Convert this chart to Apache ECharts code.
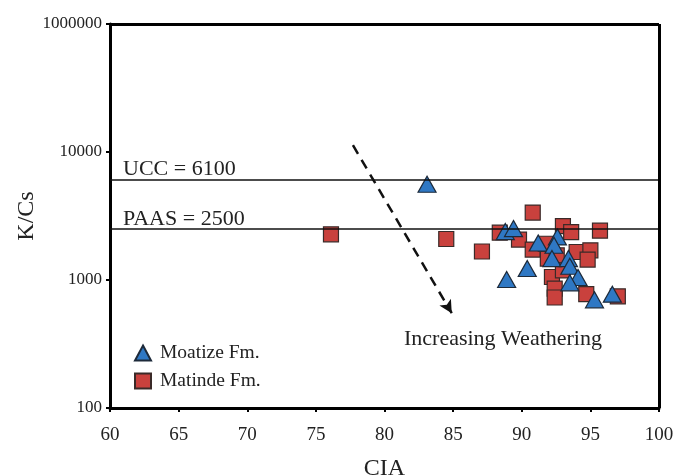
<!DOCTYPE html>
<html>
<head>
<meta charset="utf-8">
<script src="https://cdn.jsdelivr.net/npm/echarts@6/dist/echarts.min.js"></script>
<style>
  html, body { margin: 0; padding: 0; background: #fff; }
  #chart { width: 688px; height: 476px; }
</style>
</head>
<body>
<div id="chart"></div>
<script>
// CIA vs K/Cs for the two formations
const moatizeCIA = [83.1, 88.8, 89.4, 91.2, 92.6, 92.35, 92.2, 93.4, 93.5, 90.4, 88.9, 94.1, 93.5, 95.3, 96.6];
const moatizeKCs = [5600, 2390, 2520, 1945, 2170, 1870, 1470, 1470, 1280, 1230, 1010, 1045, 950, 700, 775];

const matindeCIA = [76.1, 84.5, 87.1, 88.4, 89.8, 90.8, 90.8, 91.9, 91.75, 92.55, 92.2, 92.4, 92.4, 93.0, 93.6, 95.7, 94.0, 95.0, 94.8, 93.0, 94.7, 97.0];
const matindeKCs = [2275, 2090, 1670, 2345, 2070, 3365, 1730, 1470, 1920, 1560, 1055, 855, 730, 2640, 2370, 2430, 1655, 1705, 1445, 1190, 775, 745];

const xTicks = [60, 65, 70, 75, 80, 85, 90, 95, 100];
const yTickValues = [100, 1000, 10000, 100000];
const yTickLabels = ['100', '1000', '10000', '1000000'];

// Reference compositions
const uccValue = 6100;
const paasValue = 2500;

// Weathering trend arrow endpoints [CIA, K/Cs]
const trendStart = [77.7, 11300];
const trendEnd = [84.9, 550];

const serif = '"Liberation Serif", "Times New Roman", serif';

const chart = echarts.init(document.getElementById('chart'));

const zip = (xs, ys) => xs.map((x, i) => [x, ys[i]]);

chart.setOption({
  animation: false,
  backgroundColor: '#fff',
  textStyle: { fontFamily: serif },
  grid: { left: 110, right: 29, top: 24, bottom: 68, containLabel: false, outerBoundsMode: 'none' },
  xAxis: {
    type: 'value',
    min: xTicks[0],
    max: xTicks[xTicks.length - 1],
    interval: 5,
    name: 'CIA',
    nameLocation: 'middle',
    nameGap: 49,
    nameTextStyle: { fontFamily: serif, fontSize: 24, color: '#222' },
    axisLine: { lineStyle: { color: '#000', width: 3 } },
    axisTick: { show: true, length: 4, lineStyle: { color: '#000', width: 2 } },
    axisLabel: { fontFamily: serif, fontSize: 19, color: '#222', margin: 18 },
    splitLine: { show: false }
  },
  yAxis: {
    type: 'log',
    logBase: 10,
    min: yTickValues[0],
    max: yTickValues[yTickValues.length - 1],
    name: 'K/Cs',
    nameLocation: 'middle',
    nameMoveOverlap: false,
    nameGap: 71,
    nameTextStyle: { fontFamily: serif, fontSize: 24, color: '#222' },
    axisLine: { lineStyle: { color: '#000', width: 3 } },
    axisTick: { show: true, length: 4, lineStyle: { color: '#000', width: 2 } },
    axisLabel: {
      fontFamily: serif, fontSize: 17, color: '#222', margin: 8,
      formatter: v => {
        const i = yTickValues.findIndex(t => Math.abs(Math.log10(t) - Math.log10(v)) < 1e-6);
        return i >= 0 ? yTickLabels[i] : '';
      }
    },
    splitLine: { show: false }
  },
  legend: {
    orient: 'vertical',
    left: 129,
    top: 338,
    itemWidth: 16,
    itemHeight: 15,
    itemGap: 8,
    textStyle: { fontFamily: serif, fontSize: 19.5, color: '#222', padding: [0, 0, 0, 4] },
    data: ['Moatize Fm.', 'Matinde Fm.']
  },
  series: [
    {
      // frame on the top and right edges plus reference lines and trend arrow
      type: 'line',
      data: [],
      silent: true,
      markLine: {
        silent: true,
        symbol: 'none',
        animation: false,
        data: [
          {
            yAxis: uccValue,
            lineStyle: { color: '#111', width: 1.5, type: 'solid' },
            label: {
              show: true, position: 'insideStartTop', formatter: 'UCC = 6100',
              fontFamily: serif, fontSize: 22, color: '#222', distance: [13, -1]
            }
          },
          {
            yAxis: paasValue,
            lineStyle: { color: '#111', width: 1.5, type: 'solid' },
            label: {
              show: true, position: 'insideStartTop', formatter: 'PAAS = 2500',
              fontFamily: serif, fontSize: 22, color: '#222', distance: [13, -1]
            }
          },
          {
            yAxis: yTickValues[yTickValues.length - 1],
            lineStyle: { color: '#000', width: 3, type: 'solid' },
            label: { show: false }
          },
          {
            xAxis: xTicks[xTicks.length - 1],
            lineStyle: { color: '#000', width: 3, type: 'solid' },
            label: { show: false }
          },
          [
            {
              coord: trendStart,
              symbol: 'none',
              lineStyle: { color: '#111', width: 2.5, type: [10, 7] },
              label: { show: false }
            },
            { coord: trendEnd, symbol: 'arrow', symbolSize: [10, 13] }
          ]
        ]
      }
    },
    {
      name: 'Matinde Fm.',
      type: 'scatter',
      symbol: 'rect',
      symbolSize: 15,
      itemStyle: { color: '#c9413d', borderColor: '#3a2a28', borderWidth: 1.2, opacity: 1 },
      data: zip(matindeCIA, matindeKCs),
      z: 3
    },
    {
      name: 'Moatize Fm.',
      type: 'scatter',
      symbol: 'triangle',
      symbolSize: [18, 16],
      itemStyle: { color: '#2f78c4', borderColor: '#1d2a3a', borderWidth: 1.2, opacity: 1 },
      data: zip(moatizeCIA, moatizeKCs),
      z: 4
    }
  ],
  graphic: [
    {
      type: 'text',
      left: 404,
      top: 328,
      style: { text: 'Increasing Weathering', font: '22px ' + serif, fill: '#222' }
    }
  ]
});
</script>
</body>
</html>
